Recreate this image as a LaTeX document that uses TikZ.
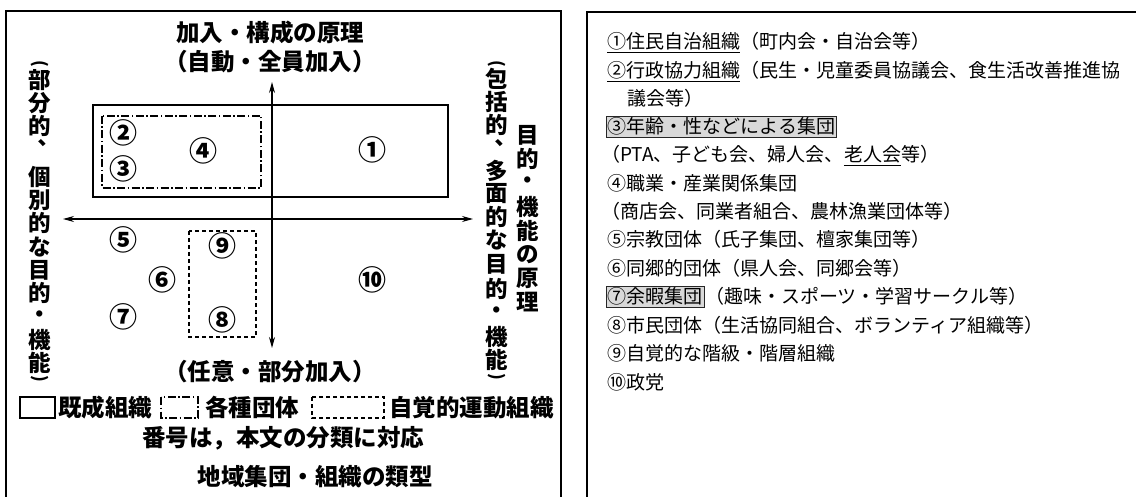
\documentclass[tikz,border=0pt]{standalone}
\usepackage{fontspec}
\newfontfamily\jp{Noto Sans CJK JP}
\usetikzlibrary{arrows.meta}
\definecolor{boxgray}{HTML}{D9D9D9}
\begin{document}
\begin{tikzpicture}[x=1pt,y=-1pt,
  frame/.style={line width=1.8pt},
  rectline/.style={line width=1.5pt},
  dashdotline/.style={line width=1.4pt,dash pattern=on 8pt off 2.5pt on 1.5pt off 2.5pt},
  dashline/.style={line width=1.4pt,dash pattern=on 4pt off 3pt},
  axis/.style={line width=1.3pt,{Stealth[length=11pt,width=6pt]}-{Stealth[length=11pt,width=6pt]}},
  lbl/.style={font=\jp\bfseries\fontsize{23.5}{23.5}\selectfont,inner sep=0pt},
  vch/.style={font=\jp\bfseries\fontsize{22.5}{22.5}\selectfont,inner sep=0pt},
  vpar/.style={font=\jp\bfseries\fontsize{17}{17}\selectfont,inner sep=0pt,rotate=-90},
  num/.style={font=\jp\bfseries\fontsize{28}{28}\selectfont,inner sep=0pt},
  rt/.style={font=\jp\fontsize{19}{19}\selectfont,inner sep=0pt,anchor=base west},
  grayed/.style={fill=boxgray,draw=black!85,line width=0.8pt,inner sep=1.5pt},
  uline/.style={line width=1pt}]
\useasboundingbox (0,0) rectangle (1136,497);
\fill[white] (0,0) rectangle (1136,497);
% outer frames
\draw[frame] (6,500) -- (6,11) -- (561,11) -- (561,500);
\draw[frame] (587,500) -- (587,12) -- (1140,12);
% left panel: titles
\node[lbl] (top1) at (270,33) {加入・構成の原理};
\node[lbl] (top2) at (270,62) {（自動・全員加入）};
\node[lbl] (bot1) at (270,372) {（任意・部分加入）};
% rectangles
\draw[rectline] (93,105) rectangle (448,197);
\draw[dashdotline] (102,116) rectangle (261,188);
\draw[dashline] (189,231) rectangle (256,337);
% axes
\coordinate (vt) at (272,82);
\coordinate (vb) at (272,348);
\coordinate (hl) at (63,219);
\coordinate (hr) at (473,219);
\draw[axis] (vt) -- (vb);
\draw[axis] (hl) -- (hr);
% numbers
\node[num] (n1) at (372,150) {①};
\node[num] (n2) at (123,133) {②};
\node[num] (n3) at (123,169) {③};
\node[num] (n4) at (203,151) {④};
\node[num] (n5) at (123,240) {⑤};
\node[num] (n6) at (162,280) {⑥};
\node[num] (n7) at (123,317) {⑦};
\node[num] (n8) at (222,320) {⑧};
\node[num] (n9) at (222,246) {⑨};
\node[num] (n10) at (372,280) {⑩};
% vertical columns
\node[vpar] (Lo) at (40,64) {(};
\foreach \c/\yy [count=\i] in {部/80,分/103,的/126,個/177,別/200,的/223,な/247,目/270,的/293,・/316.5,機/340,能/363}
  \node[vch] (L\i) at (40,\yy) {\c};
\node[vch] (Lc) at (36,149) {︑};
\node[vpar] (Lx) at (40,379) {)};
\node[vpar] (Ro) at (497,64) {(};
\foreach \c/\yy [count=\i] in {包/79,括/102,的/125,多/171,面/194,的/217,な/240,目/264,的/289,・/313,機/337,能/360}
  \node[vch] (R\i) at (497,\yy) {\c};
\node[vch] (Rc) at (493,149) {︑};
\node[vpar] (Rx) at (497,377) {)};
\foreach \c [count=\i] in {目,的,・,機,能,の,原,理}
  \node[vch] (P\i) at (528,{135+23.9*(\i-1)}) {\c};
% legend
\draw[rectline] (20,397) rectangle (55,418);
\node[lbl,anchor=west] (lg1) at (58,407.5) {既成組織};
\draw[dashdotline] (161,397) rectangle (198,418);
\node[lbl,anchor=west] (lg2) at (205,407.5) {各種団体};
\draw[dashline] (312,397) rectangle (384,418);
\node[lbl,anchor=west] (lg3) at (389,407.5) {自覚的運動組織};
\node[lbl] (note) at (283,438) {番号は，本文の分類に対応};
\node[lbl] (cap) at (315,477) {地域集団・組織の類型};
% right panel
\node[rt] (r1a) at (607,49) {①住民自治組織};
\node[rt] (r1b) at (r1a.base east) {（町内会・自治会等）};
\draw[uline] ([yshift=-4pt]r1a.base west) -- ([yshift=-4pt]r1a.base east);
\node[rt] (r2a) at (607,77.3) {②行政協力組織};
\node[rt] (r2b) at (r2a.base east) {（民生・児童委員協議会、食生活改善推進協};
\draw[uline] ([yshift=-4pt]r2a.base west) -- ([yshift=-4pt]r2a.base east);
\node[rt] (r3) at (627,105.6) {議会等）};
\node[rt,grayed] (r4) at (606,134) {③年齢・性などによる集団};
\node[rt] (r5a) at (601,162) {（PTA、子ども会、婦人会、};
\node[rt] (r5b) at (r5a.base east) {老人会};
\node[rt] (r5c) at (r5b.base east) {等）};
\draw[uline] ([yshift=-4pt]r5b.base west) -- ([yshift=-4pt]r5b.base east);
\node[rt] (r6) at (607,190.5) {④職業・産業関係集団};
\node[rt] (r7) at (601,219) {（商店会、同業者組合、農林漁業団体等）};
\node[rt] (r8) at (607,247) {⑤宗教団体（氏子集団、檀家集団等）};
\node[rt] (r9) at (607,275.5) {⑥同郷的団体（県人会、同郷会等）};
\node[rt,grayed] (r10a) at (606,304) {⑦余暇集団};
\node[rt] (r10b) at (r10a.base east) {（趣味・スポーツ・学習サークル等）};
\node[rt] (r11) at (607,332) {⑧市民団体（生活協同組合、ボランティア組織等）};
\node[rt] (r12) at (607,360.5) {⑨自覚的な階級・階層組織};
\node[rt] (r13) at (607,389) {⑩政党};
\end{tikzpicture}
\end{document}
